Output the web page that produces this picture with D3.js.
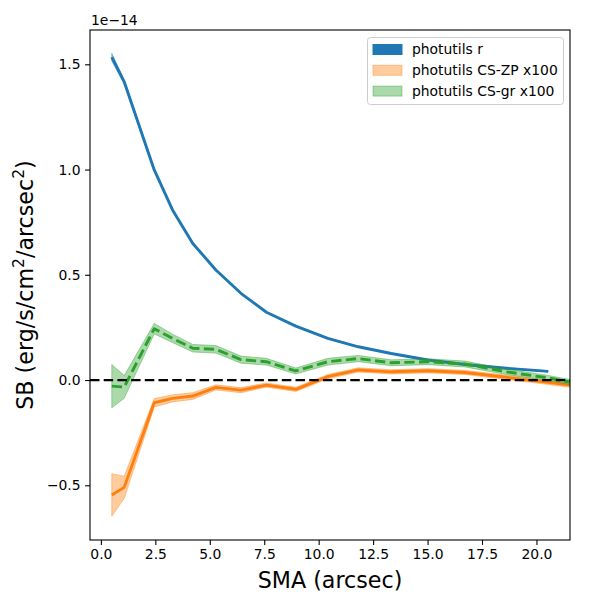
<!DOCTYPE html>
<html>
<head>
<meta charset="utf-8">
<script src="https://cdn.jsdelivr.net/npm/d3@7"></script>
<style>
  html, body { margin: 0; padding: 0; background: #fff; }
  svg { display: block; font-family: "DejaVu Sans", sans-serif; }
</style>
</head>
<body>
<svg id="chart" width="600" height="600"></svg>
<script>
// SMA (arcsec) sample positions
const sma = [0.50, 1.07, 2.45, 3.29, 4.22, 5.28, 6.43, 7.60, 8.95, 10.42, 11.82, 13.33, 15.02, 16.72, 18.62, 20.54, 22.56];

// photutils r (units of 1e-14)
const rVal = [1.534, 1.417, 0.998, 0.808, 0.649, 0.523, 0.412, 0.322, 0.256, 0.198, 0.158, 0.126, 0.095, 0.074, 0.056, 0.041];
const rErr = [0.018, 0.010, 0.004, 0.003, 0.003, 0.002, 0.002, 0.002, 0.002, 0.002, 0.002, 0.002, 0.002, 0.002, 0.002, 0.002];

// photutils CS-ZP x100
const zpVal = [-0.546, -0.510, -0.108, -0.087, -0.076, -0.035, -0.048, -0.024, -0.044, 0.016, 0.048, 0.039, 0.044, 0.036, 0.013, -0.011, -0.038];
const zpErr = [0.101, 0.053, 0.020, 0.017, 0.016, 0.012, 0.012, 0.010, 0.010, 0.010, 0.010, 0.010, 0.010, 0.010, 0.010, 0.010, 0.010];

// photutils CS-gr x100
const grVal = [-0.029, -0.033, 0.244, 0.198, 0.151, 0.146, 0.097, 0.087, 0.043, 0.087, 0.102, 0.082, 0.087, 0.076, 0.039, 0.010, -0.030];
const grErr = [0.103, 0.054, 0.025, 0.020, 0.018, 0.018, 0.017, 0.016, 0.014, 0.016, 0.015, 0.014, 0.014, 0.014, 0.013, 0.012, 0.012];

const xTicks = [0, 2.5, 5, 7.5, 10, 12.5, 15, 17.5, 20];
const yTicks = [-0.5, 0, 0.5, 1.0, 1.5];
const legendLabels = ["photutils r", "photutils CS-ZP x100", "photutils CS-gr x100"];
const colors = ["#1f77b4", "#ff7f0e", "#2ca02c"];

const L = 90, R = 570, T = 30, B = 540;
const svg = d3.select("#chart");
const x = d3.scaleLinear().domain([-0.5, 21.54]).range([L, R]);
const y = d3.scaleLinear().domain([-0.76, 1.663]).range([B, T]);

svg.append("defs").append("clipPath").attr("id", "clip")
  .append("rect").attr("x", L).attr("y", T).attr("width", R - L).attr("height", B - T);

const plot = svg.append("g").attr("clip-path", "url(#clip)");

function series(vals, errs) {
  return vals.map((v, i) => ({ x: sma[i], v: v, e: errs[i] }));
}
const area = d3.area().x(d => x(d.x)).y0(d => y(d.v - d.e)).y1(d => y(d.v + d.e));
const line = d3.line().x(d => x(d.x)).y(d => y(d.v));

const sets = [
  { data: series(rVal, rErr), color: colors[0], fillOp: 0.4, dash: null },
  { data: series(zpVal, zpErr), color: colors[1], fillOp: 0.4, dash: null },
  { data: series(grVal, grErr), color: colors[2], fillOp: 0.4, dash: "10.3,4.4" }
];

sets.forEach(s => {
  plot.append("path").datum(s.data).attr("d", area)
    .attr("fill", s.color).attr("fill-opacity", s.fillOp)
    .attr("stroke", s.color).attr("stroke-opacity", s.fillOp).attr("stroke-width", 1);
  const p = plot.append("path").datum(s.data).attr("d", line)
    .attr("fill", "none").attr("stroke", s.color).attr("stroke-width", 2.9)
    .attr("stroke-linejoin", "round");
  if (s.dash) p.attr("stroke-dasharray", s.dash);
});

// zero line
plot.append("line").attr("x1", L).attr("x2", R).attr("y1", y(0)).attr("y2", y(0))
  .attr("stroke", "#000").attr("stroke-width", 2.2).attr("stroke-dasharray", "9.5,4.2");

// axes
const xAxis = d3.axisBottom(x).tickValues(xTicks).tickFormat(d3.format(".1f")).tickSize(4.9).tickPadding(4.5);
const yAxis = d3.axisLeft(y).tickValues(yTicks).tickFormat(d => d3.format(".1f")(d).replace("-", "\u2212")).tickSize(4.9).tickPadding(4.5);

const gx = svg.append("g").attr("transform", `translate(0,${B})`).call(xAxis);
const gy = svg.append("g").attr("transform", `translate(${L},0)`).call(yAxis);
[gx, gy].forEach(g => {
  g.select(".domain").remove();
  g.selectAll(".tick line").attr("stroke", "#000").attr("stroke-width", 1.1);
  g.selectAll(".tick text").attr("font-family", "DejaVu Sans").attr("font-size", 13.9).attr("fill", "#000");
});

// frame
svg.append("rect").attr("x", L).attr("y", T).attr("width", R - L).attr("height", B - T)
  .attr("fill", "none").attr("stroke", "#000").attr("stroke-width", 1.1);

// offset text
svg.append("text").attr("x", L + 1).attr("y", 25).attr("font-size", 13.9).text("1e\u221214");

// axis labels
svg.append("text").attr("x", (L + R) / 2).attr("y", 588).attr("text-anchor", "middle")
  .attr("font-size", 22.2).text("SMA (arcsec)");

const yl = svg.append("text").attr("transform", `translate(33,${(T + B) / 2}) rotate(-90)`)
  .attr("text-anchor", "middle").attr("font-size", 22.2);
yl.append("tspan").text("SB (erg/s/cm");
yl.append("tspan").attr("font-size", 15.5).attr("dy", -9).text("2");
yl.append("tspan").attr("dy", 9).text("/arcsec");
yl.append("tspan").attr("font-size", 15.5).attr("dy", -9).text("2");
yl.append("tspan").attr("dy", 9).text(")");

// legend
const lg = svg.append("g");
lg.append("rect").attr("x", 367.5).attr("y", 37.5).attr("width", 196).attr("height", 67).attr("rx", 3)
  .attr("fill", "#fff").attr("fill-opacity", 0.8).attr("stroke", "#cccccc").attr("stroke-width", 1);
const rowY = [49.5, 70.3, 91.1];
legendLabels.forEach((lab, i) => {
  lg.append("rect").attr("x", 373).attr("y", rowY[i] - 5).attr("width", 29).attr("height", 10)
    .attr("fill", colors[i]).attr("fill-opacity", i === 0 ? 1 : 0.4)
    .attr("stroke", colors[i]).attr("stroke-opacity", i === 0 ? 1 : 0.4).attr("stroke-width", 1);
  lg.append("text").attr("x", 412).attr("y", rowY[i]).attr("dy", "0.35em")
    .attr("font-size", 13.9).text(lab);
});
</script>
</body>
</html>
